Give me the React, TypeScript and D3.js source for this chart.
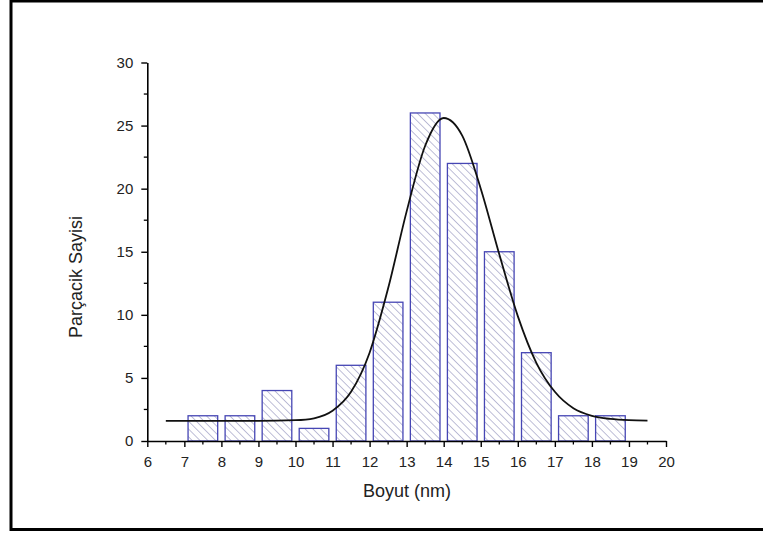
import React, { useRef, useEffect } from 'react';
import * as d3 from 'd3';

// histogram bins (center of each bin, nm) and counts
const binCenters = [7.5, 8.5, 9.5, 10.5, 11.5, 12.5, 13.5, 14.5, 15.5, 16.5, 17.5, 18.5];
const counts = [2, 2, 4, 1, 6, 11, 26, 22, 15, 7, 2, 2];

// fitted curve
const fitX = [6.5, 7, 8, 9, 10, 10.5, 11, 11.5, 12, 12.5, 13, 13.5, 14, 14.5, 15, 15.5, 16, 16.5, 17, 17.5, 18, 18.5, 19, 19.5];
const fitY = [1.6, 1.6, 1.6, 1.6, 1.65, 1.8, 2.4, 3.9, 7.0, 12.1, 18.2, 23.4, 25.6, 24.2, 20.0, 14.8, 9.9, 6.2, 3.9, 2.6, 2.0, 1.75, 1.65, 1.62];

const xTicks = [6, 7, 8, 9, 10, 11, 12, 13, 14, 15, 16, 17, 18, 19, 20];
const yTicks = [0, 5, 10, 15, 20, 25, 30];

const App = () => {
  const chartRef = useRef<SVGSVGElement | null>(null);

  useEffect(() => {
    const binWidth = 0.8;
    const font = 'Arial, "Liberation Sans", sans-serif';

    const svg = d3.select(chartRef.current);
    svg.selectAll('*').remove();

    // page frame
    svg.append('path')
      .attr('d', 'M780,1 H11 V529.5 H780')
      .attr('fill', 'none')
      .attr('stroke', '#000')
      .attr('stroke-width', 3);

    const x = d3.scaleLinear().domain([6, 20]).range([147.3, 666]);
    const y = d3.scaleLinear().domain([0, 30]).range([441, 62.5]);

    // hatch pattern for bars
    const pat = svg.append('defs').append('pattern')
      .attr('id', 'hatch')
      .attr('patternUnits', 'userSpaceOnUse')
      .attr('width', 5.5)
      .attr('height', 5.5)
      .attr('patternTransform', 'rotate(-45)');
    pat.append('rect').attr('width', 5.5).attr('height', 5.5).attr('fill', '#fff');
    pat.append('line')
      .attr('x1', 0).attr('y1', 0).attr('x2', 0).attr('y2', 5.5)
      .attr('stroke', '#8a8ab8')
      .attr('stroke-width', 1.1);

    const bars = binCenters.map((c, i) => ({ c, v: counts[i] }));

    svg.append('g')
      .selectAll('rect')
      .data(bars)
      .join('rect')
      .attr('x', d => x(d.c - binWidth / 2))
      .attr('y', d => y(d.v))
      .attr('width', d => x(d.c + binWidth / 2) - x(d.c - binWidth / 2))
      .attr('height', d => y(0) - y(d.v))
      .attr('fill', 'url(#hatch)')
      .attr('stroke', '#4646b4')
      .attr('stroke-width', 1.3);

    // fit curve
    const fitData = fitX.map((v, i) => [v, fitY[i]] as [number, number]);
    const line = d3.line<[number, number]>()
      .x(d => x(d[0]))
      .y(d => y(d[1]))
      .curve(d3.curveMonotoneX);

    svg.append('path')
      .datum(fitData)
      .attr('d', line)
      .attr('fill', 'none')
      .attr('stroke', '#111')
      .attr('stroke-width', 1.8);

    // x axis
    const xAxis = svg.append('g')
      .attr('transform', `translate(0,${y(0)})`)
      .call(d3.axisBottom(x).tickValues(xTicks).tickFormat(d3.format('d')).tickSize(6).tickSizeOuter(0).tickPadding(9));
    xAxis.attr('font-size', null).attr('font-family', null);
    xAxis.select('.domain').attr('stroke-width', 1.6);
    xAxis.selectAll('.tick line').attr('stroke-width', 1.4);
    xAxis.selectAll('text')
      .style('font-size', '15px')
      .style('font-family', font)
      .attr('fill', '#222');
    xAxis.append('g')
      .selectAll('line')
      .data(d3.range(6.5, 20, 1))
      .join('line')
      .attr('x1', d => x(d)).attr('x2', d => x(d))
      .attr('y1', 0).attr('y2', 3.5)
      .attr('stroke', '#000')
      .attr('stroke-width', 1.3);

    // y axis
    const yAxis = svg.append('g')
      .attr('transform', `translate(${x(6)},0)`)
      .call(d3.axisLeft(y).tickValues(yTicks).tickSize(6).tickSizeOuter(0).tickPadding(8));
    yAxis.attr('font-size', null).attr('font-family', null);
    yAxis.select('.domain').attr('stroke-width', 1.6);
    yAxis.selectAll('.tick line').attr('stroke-width', 1.4);
    yAxis.selectAll('text')
      .style('font-size', '15px')
      .style('font-family', font)
      .attr('fill', '#222');
    yAxis.append('g')
      .selectAll('line')
      .data(d3.range(2.5, 30, 5))
      .join('line')
      .attr('y1', d => y(d)).attr('y2', d => y(d))
      .attr('x1', 0).attr('x2', -3.5)
      .attr('stroke', '#000')
      .attr('stroke-width', 1.3);

    // axis titles
    svg.append('text')
      .attr('x', 407)
      .attr('y', 497)
      .attr('text-anchor', 'middle')
      .style('font-family', font)
      .style('font-size', '18px')
      .attr('fill', '#222')
      .text('Boyut (nm)');

    svg.append('text')
      .attr('transform', 'translate(82,277) rotate(-90)')
      .attr('text-anchor', 'middle')
      .style('font-family', font)
      .style('font-size', '18px')
      .attr('fill', '#222')
      .text('Parçacik Sayisi');
  }, []);

  return (
    <svg
      ref={chartRef}
      width={763}
      height={533}
      style={{ position: 'absolute', left: 0, top: 0, display: 'block', background: '#fff' }}
    />
  );
};

export default App;
